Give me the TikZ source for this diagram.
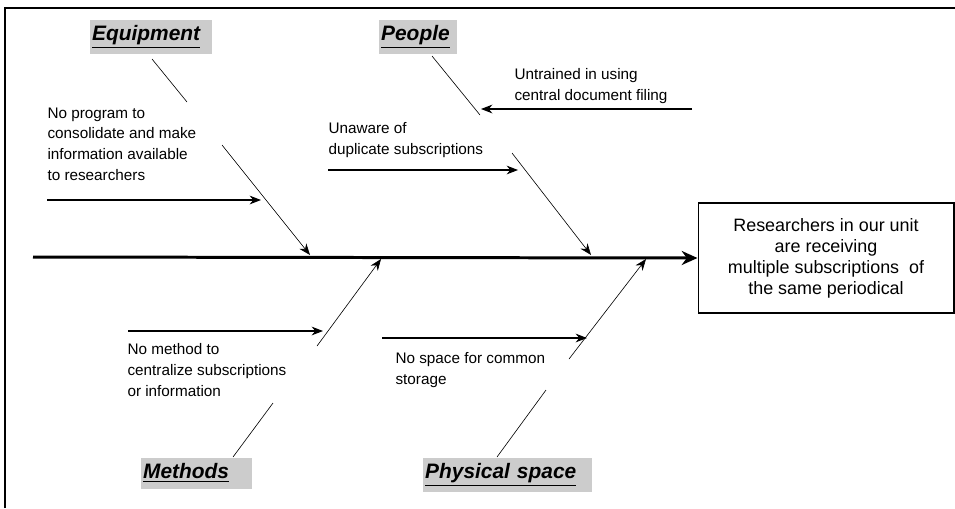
\documentclass[tikz,border=0pt]{standalone}
\usepackage{fontspec}
\setmainfont{Liberation Sans}
\usetikzlibrary{positioning}
\usetikzlibrary{arrows.meta}

\begin{document}
\begin{tikzpicture}[
            x = 0.02cm, y = -0.02cm, % one unit per pixel
            > = {Stealth[length=6.5pt, width=5pt]}, % arrow head style
            semithick % line style
            ]

        \tikzstyle{cat}=[
            fill = gray!40,
            anchor = north west,
            inner xsep = 1.5pt,
            minimum height = 0.62cm,
            align = left,
            font = \fontsize{11.9}{14}\selectfont\bfseries\itshape
        ]
        \tikzstyle{cause}=[
            anchor = north west,
            inner sep = 0pt,
            align = left,
            font = \fontsize{8.7}{11.9}\selectfont
        ]
        \tikzstyle{bone}=[line width = 0.35pt]
        \tikzstyle{twig}=[->, line width = 0.6pt]

        \useasboundingbox (0,0) rectangle (955,508);
        \draw[line width = 1.1pt] (5,508) -- (5,8) -- (955,8);

	% effect
	\node[draw, line width = 0.6pt, minimum width = 5.12cm, minimum height = 2.2cm,
	      align = center, font = \fontsize{10.2}{11.9}\selectfont] (effect) at (826,258)
	      {Researchers in our unit\\are receiving\\multiple subscriptions\ \ of\\the same periodical};
	\coordinate (tail) at (33,257);
	\draw[line width = 1.7pt, -{Stealth[length=9pt, width=8pt]}] (tail) -- (effect.west);

	% categories
	\node[cat, text width = 2.35cm] (equip) at (89,19) {\underline{Equipment}};
	\node[cat, text width = 1.47cm] (people) at (378,19) {\underline{People}};
	\node[cat, text width = 2.13cm] (method) at (140,457) {\underline{Methods}};
	\node[cat, text width = 3.29cm] (space) at (422,457) {\underline{Physical space}};

	% causes
	\node[cause] (C1) at (47,107) {No program to\\consolidate and make\\information available\\to researchers};
	\node[cause] (C2) at (514,68) {Untrained in using\\central document filing};
	\node[cause] (C3) at (328,122) {Unaware of\\duplicate subscriptions};
	\node[cause] (C4) at (127,343) {No method to\\centralize subscriptions\\or information};
	\node[cause] (C5) at (395,352) {No space for common\\storage};

	% bones
	\coordinate (E1) at (152,59);  \coordinate (E2) at (187,102);
	\coordinate (E3) at (222,145); \coordinate (E4) at (310,255);
	\draw[bone] (E1) -- (E2);
	\draw[bone, ->] (E3) -- (E4);

	\coordinate (P1) at (432,56);  \coordinate (P2) at (480,115);
	\coordinate (P3) at (512,153); \coordinate (P4) at (591,255);
	\draw[bone] (P1) -- (P2);
	\draw[bone, ->] (P3) -- (P4);

	\coordinate (M1) at (233,457); \coordinate (M2) at (273,403);
	\coordinate (M3) at (317,346); \coordinate (M4) at (381,259);
	\draw[bone] (M1) -- (M2);
	\draw[bone, ->] (M3) -- (M4);

	\coordinate (S1) at (497,457); \coordinate (S2) at (546,390);
	\coordinate (S3) at (569,359); \coordinate (S4) at (646,259);
	\draw[bone] (S1) -- (S2);
	\draw[bone, ->] (S3) -- (S4);

	% cause arrows
	\coordinate (A1) at (47,200);  \coordinate (B1) at (261,200);
	\coordinate (A2) at (692,109); \coordinate (B2) at (481,109);
	\coordinate (A3) at (328,170); \coordinate (B3) at (518,170);
	\coordinate (A4) at (128,331); \coordinate (B4) at (323,331);
	\coordinate (A5) at (382,338); \coordinate (B5) at (587,338);
	\draw[twig] (A1) -- (B1);
	\draw[twig] (A2) -- (B2);
	\draw[twig] (A3) -- (B3);
	\draw[twig] (A4) -- (B4);
	\draw[twig] (A5) -- (B5);

\end{tikzpicture}
\end{document}
